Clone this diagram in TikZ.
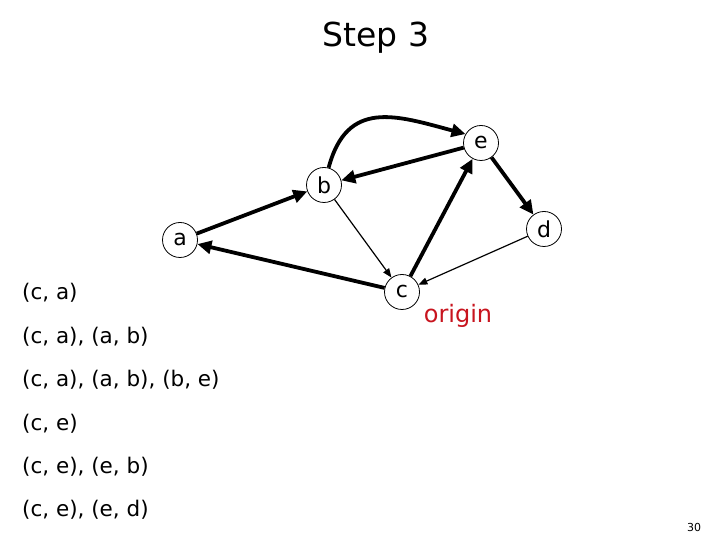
\documentclass[tikz,border=0pt]{standalone}
\usepackage{fontspec}
\setmainfont{DejaVu Sans}
\usetikzlibrary{arrows.meta}
\definecolor{originred}{RGB}{200,20,30}

\begin{document}
\begin{tikzpicture}[
    x=1pt,y=1pt,
    vertex/.style={draw, circle, fill=white, line width=0.8pt, minimum size=35pt,
      inner sep=0pt, font=\fontsize{22}{26}\selectfont},
    heavy/.style={line width=3.8pt, -{Triangle[length=14pt,width=13pt]}},
    light/.style={line width=1.2pt, -{Triangle[length=9pt,width=7pt]}},
    pair/.style={anchor=west, inner sep=0pt, font=\fontsize{21.5}{25}\selectfont}
    ]
    \useasboundingbox (0, 0) rectangle (720, 540);
    \node (title) at (376, 502) {\fontsize{33}{38}\selectfont Step 3};
    \node[vertex] (a) at (180, 300) {a};
    \node[vertex] (b) at (324, 355) {b};
    \node[vertex] (e) at (481, 397) {e};
    \node[vertex] (d) at (544, 311) {d};
    \node[vertex] (c) at (402, 248) {c};
    \draw[heavy] (a) -- (b);
    \draw[heavy] (c) -- (a);
    \draw[heavy] (b.75) to[out=75, in=165, looseness=1.3] (e.150);
    \draw[heavy] (e) -- (b);
    \draw[heavy] (c) -- (e);
    \draw[heavy] (e) -- (d);
    \draw[light] (b) -- (c);
    \draw[light] (d) -- (c);
    \node[text=originred, font=\fontsize{24}{28}\selectfont] (origin) at (458, 224) {origin};
    \node[pair] (p1) at (22, 247) {(c, a)};
    \node[pair] (p2) at (22, 203) {(c, a), (a, b)};
    \node[pair] (p3) at (22, 160) {(c, a), (a, b), (b, e)};
    \node[pair] (p4) at (22, 116) {(c, e)};
    \node[pair] (p5) at (22, 73) {(c, e), (e, b)};
    \node[pair] (p6) at (22, 30) {(c, e), (e, d)};
    \node[font=\fontsize{11}{13}\selectfont] (page) at (694, 13) {30};
\end{tikzpicture}
\end{document}
